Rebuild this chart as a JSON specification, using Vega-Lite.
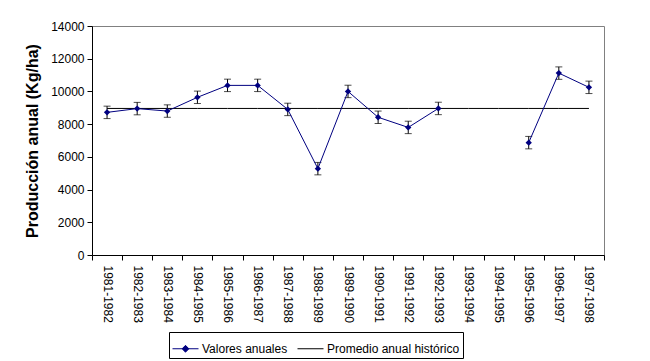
{
  "$schema": "https://vega.github.io/schema/vega-lite/v6.json",
  "autosize": {"type": "none"},
  "width": 512,
  "height": 229,
  "padding": {"left": 92, "top": 26, "right": 46, "bottom": 106},
  "background": "white",
  "config": {
    "font": "Liberation Sans",
    "view": {"stroke": "#808080", "strokeWidth": 1},
    "axis": {
      "labelFont": "Liberation Sans",
      "labelFontSize": 12,
      "labelColor": "black",
      "domainColor": "black",
      "tickColor": "black",
      "tickSize": 5,
      "grid": false
    },
    "legend": {
      "strokeColor": "#000000",
      "strokeWidth": 1,
      "padding": 3
    }
  },
  "data": {
    "values": [
      {"periodo": "1981-1982", "valor": 8720, "lo": 8340, "hi": 9100, "prom": 8960},
      {"periodo": "1982-1983", "valor": 8950, "lo": 8570, "hi": 9330, "prom": 8960},
      {"periodo": "1983-1984", "valor": 8800, "lo": 8420, "hi": 9180, "prom": 8960},
      {"periodo": "1984-1985", "valor": 9640, "lo": 9260, "hi": 10020, "prom": 8960},
      {"periodo": "1985-1986", "valor": 10370, "lo": 9990, "hi": 10750, "prom": 8960},
      {"periodo": "1986-1987", "valor": 10370, "lo": 9990, "hi": 10750, "prom": 8960},
      {"periodo": "1987-1988", "valor": 8900, "lo": 8520, "hi": 9280, "prom": 8960},
      {"periodo": "1988-1989", "valor": 5280, "lo": 4900, "hi": 5660, "prom": 8960},
      {"periodo": "1989-1990", "valor": 10000, "lo": 9620, "hi": 10380, "prom": 8960},
      {"periodo": "1990-1991", "valor": 8420, "lo": 8040, "hi": 8800, "prom": 8960},
      {"periodo": "1991-1992", "valor": 7800, "lo": 7420, "hi": 8180, "prom": 8960},
      {"periodo": "1992-1993", "valor": 8960, "lo": 8580, "hi": 9340, "prom": 8960},
      {"periodo": "1993-1994", "valor": null, "lo": null, "hi": null, "prom": 8960},
      {"periodo": "1994-1995", "valor": null, "lo": null, "hi": null, "prom": 8960},
      {"periodo": "1995-1996", "valor": 6870, "lo": 6490, "hi": 7250, "prom": 8960},
      {"periodo": "1996-1997", "valor": 11120, "lo": 10740, "hi": 11500, "prom": 8960},
      {"periodo": "1997-1998", "valor": 10250, "lo": 9870, "hi": 10630, "prom": 8960}
    ]
  },
  "encoding": {
    "x": {
      "field": "periodo",
      "type": "nominal",
      "sort": null,
      "scale": {"paddingInner": 0, "paddingOuter": 0},
      "axis": {
        "title": null,
        "labelAngle": 90,
        "labelPadding": 5,
        "tickBand": "extent",
        "labelOverlap": false,
        "labelBound": false
      }
    }
  },
  "layer": [
    {
      "mark": {"type": "line", "strokeWidth": 1},
      "encoding": {
        "y": {
          "field": "prom",
          "type": "quantitative",
          "title": "Producción anual (Kg/ha)",
          "scale": {"domain": [0, 14000], "nice": false, "zero": true},
          "axis": {
            "values": [0, 2000, 4000, 6000, 8000, 10000, 12000, 14000],
            "format": "d",
            "labelOverlap": false,
            "labelBound": false,
            "labelPadding": 3,
            "titleFont": "Liberation Sans",
            "titleFontSize": 16,
            "titleFontWeight": "bold",
            "titleColor": "black",
            "titlePadding": 10
          }
        },
        "color": {
          "datum": "Promedio anual histórico",
          "type": "nominal",
          "scale": {
            "domain": ["Valores anuales", "Promedio anual histórico"],
            "range": ["#000080", "#000000"]
          },
          "legend": {
            "title": null,
            "orient": "none",
            "legendX": 77,
            "legendY": 306,
            "direction": "horizontal",
            "columns": 2,
            "strokeColor": "#000000",
            "padding": 3,
            "labelFont": "Liberation Sans",
            "labelFontSize": 12,
            "labelColor": "black",
            "labelOffset": 3,
            "columnPadding": 7,
            "symbolSize": 676,
            "symbolStrokeWidth": 1,
            "symbolType": "M-1,0L1,0",
            "encode": {
              "symbols": {
                "update": {
                  "shape": [
                    {"test": "datum.value === 'Valores anuales'", "value": "M-1,0L1,0M0,-0.26L0.26,0L0,0.26L-0.26,0Z"},
                    {"value": "M-1,0L1,0"}
                  ],
                  "fill": [
                    {"test": "datum.value === 'Valores anuales'", "value": "#000080"},
                    {"value": "transparent"}
                  ]
                }
              }
            }
          }
        }
      }
    },
    {
      "mark": {"type": "errorbar", "ticks": {"size": 7}, "color": "black", "thickness": 1},
      "encoding": {
        "y": {
          "field": "lo",
          "type": "quantitative",
          "title": "Producción anual (Kg/ha)",
          "axis": {
            "values": [0, 2000, 4000, 6000, 8000, 10000, 12000, 14000],
            "format": "d",
            "labelOverlap": false,
            "labelBound": false,
            "labelPadding": 3,
            "titleFont": "Liberation Sans",
            "titleFontSize": 16,
            "titleFontWeight": "bold",
            "titleColor": "black",
            "titlePadding": 10
          }
        },
        "y2": {"field": "hi"}
      }
    },
    {
      "mark": {"type": "line", "strokeWidth": 1},
      "encoding": {
        "y": {
          "field": "valor",
          "type": "quantitative",
          "title": "Producción anual (Kg/ha)",
          "axis": {
            "values": [0, 2000, 4000, 6000, 8000, 10000, 12000, 14000],
            "format": "d",
            "labelOverlap": false,
            "labelBound": false,
            "labelPadding": 3,
            "titleFont": "Liberation Sans",
            "titleFontSize": 16,
            "titleFontWeight": "bold",
            "titleColor": "black",
            "titlePadding": 10
          }
        },
        "color": {"datum": "Valores anuales", "type": "nominal"}
      }
    },
    {
      "mark": {"type": "point", "shape": "diamond", "filled": true, "size": 40, "color": "#000080", "opacity": 1},
      "encoding": {
        "y": {
          "field": "valor",
          "type": "quantitative",
          "title": "Producción anual (Kg/ha)",
          "axis": {
            "values": [0, 2000, 4000, 6000, 8000, 10000, 12000, 14000],
            "format": "d",
            "labelOverlap": false,
            "labelBound": false,
            "labelPadding": 3,
            "titleFont": "Liberation Sans",
            "titleFontSize": 16,
            "titleFontWeight": "bold",
            "titleColor": "black",
            "titlePadding": 10
          }
        }
      }
    }
  ]
}
